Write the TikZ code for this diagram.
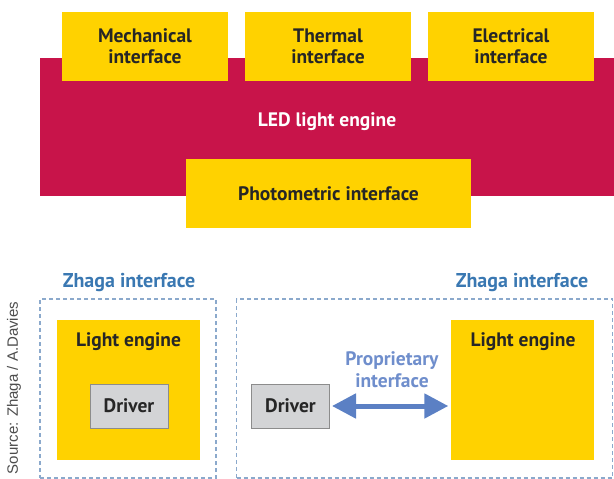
\documentclass[tikz,border=0pt]{standalone}
\usepackage{fontspec}
\setmainfont{PT Sans}
\newfontfamily\srcfont{Liberation Sans}
\usetikzlibrary{arrows.meta}
\definecolor{ledred}{HTML}{C8144A}
\definecolor{ifyellow}{HTML}{FFD200}
\definecolor{zhagablue}{HTML}{3A78B2}
\definecolor{propblue}{HTML}{6F8ECC}
\definecolor{arrowblue}{HTML}{5B80C4}
\definecolor{frameblue}{HTML}{8BA9CC}
\definecolor{drvgrey}{HTML}{D3D4D6}
\begin{document}
\begin{tikzpicture}[x=1pt, y=-1pt,
    font=\fontsize{19.5}{21}\selectfont\bfseries,
    ifbox/.style={fill=ifyellow, inner sep=0pt, align=center, text=black!85,
        minimum width=166pt, minimum height=69pt},
    engbox/.style={fill=ifyellow, inner sep=0pt, minimum width=143pt, minimum height=140pt},
    drvbox/.style={fill=drvgrey, draw=black!45, line width=1pt, inner sep=0pt,
        text=black!85, minimum width=78pt, minimum height=44pt},
    zhagaframe/.style={draw=frameblue, line width=1.5pt, dash pattern=on 4pt off 3pt,
        inner sep=0pt, minimum height=179pt},
    zhagalabel/.style={text=zhagablue, font=\fontsize{20}{21}\selectfont\bfseries}]
    \useasboundingbox (0,0) rectangle (614,479);

    % top: the light engine and its four interfaces
    \node[fill=ledred, inner sep=0pt, minimum width=574pt, minimum height=138pt] (led) at (327,127) {};
    \node[text=white] (ledtext) at (327,122) {LED light engine};
    \node[ifbox] (mech) at (145,46.5) {Mechanical\\interface};
    \node[ifbox] (therm) at (328,46.5) {Thermal\\interface};
    \node[ifbox] (elec) at (511,46.5) {Electrical\\interface};
    \node[ifbox, minimum width=285pt] (photo) at (328.5,193.5) {Photometric interface};

    % bottom left: driver inside the light engine
    \node[zhagaframe, minimum width=176pt] (frameA) at (128,388.5) {};
    \node[zhagalabel] (zhagaA) at (129,282.5) {Zhaga interface};
    \node[engbox] (engA) at (128.5,390) {};
    \node[text=black!85] (engAtext) at (128.5,341.5) {Light engine};
    \node[drvbox] (drvA) at (129,406) {Driver};

    % bottom right: separate driver
    \node[zhagaframe, minimum width=376pt] (frameB) at (424.5,388.5) {};
    \node[zhagalabel] (zhagaB) at (522,282.5) {Zhaga interface};
    \node[engbox] (engB) at (522,390) {};
    \node[text=black!85] (engBtext) at (523,341.5) {Light engine};
    \node[drvbox] (drvB) at (290.5,406) {Driver};
    \draw[arrowblue, line width=5pt, {Triangle[length=24pt,width=24pt]}-{Triangle[length=24pt,width=24pt]}]
        (drvB.east) ++(2,0) coordinate (arrA) (engB.west |- drvB.east) ++(-2,0) coordinate (arrB)
        (arrA) -- (arrB);
    \node[text=propblue, align=center, font=\fontsize{19.5}{22}\selectfont\bfseries] (prop) at (392,370) {Proprietary\\interface};

    \node[rotate=90, text=black!70, font=\srcfont\fontsize{15}{16}\selectfont] (src) at (14,388) {Source: Zhaga / A.Davies};
\end{tikzpicture}
\end{document}
